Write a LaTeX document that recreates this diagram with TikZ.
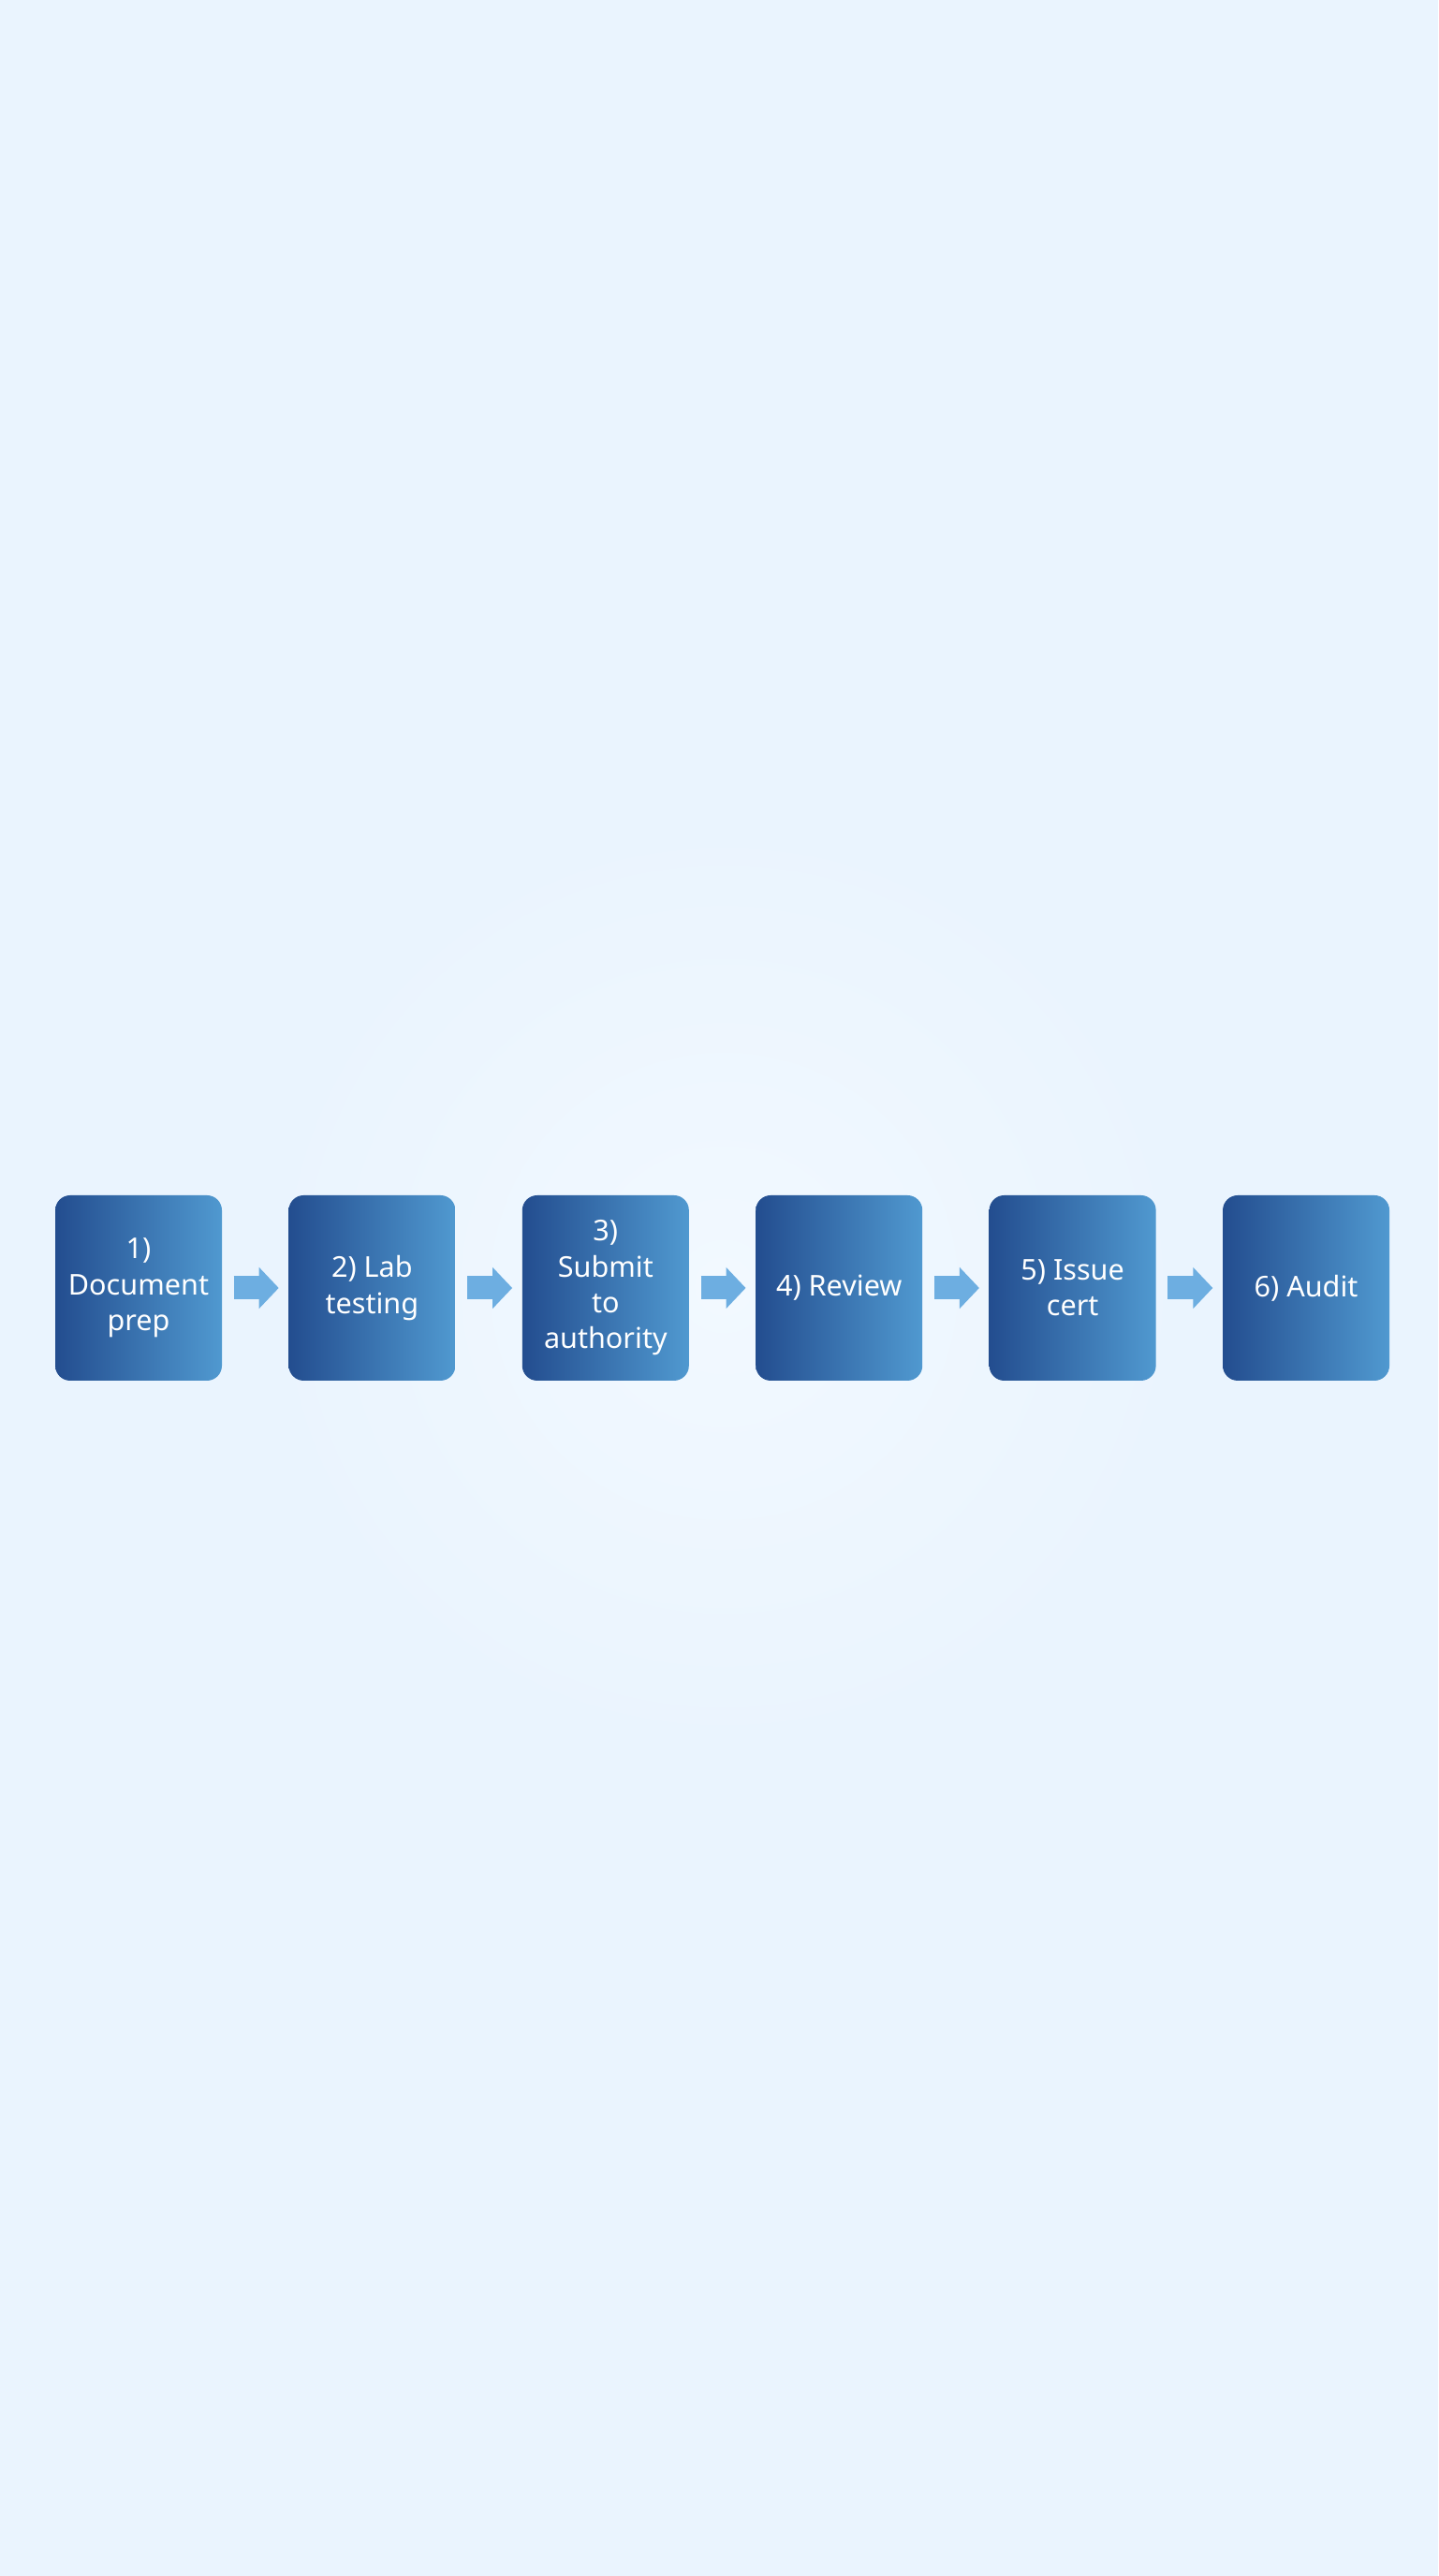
\documentclass[tikz,border=0pt]{standalone}
\usepackage{fontspec}
\setmainfont{Noto Sans}
\usetikzlibrary{positioning,arrows.meta}
\definecolor{bgblue}{HTML}{EAF4FE}
\definecolor{glowblue}{HTML}{F2F9FF}
\definecolor{boxleft}{HTML}{234D8F}
\definecolor{boxright}{HTML}{5099D0}
\definecolor{arrowblue}{HTML}{6DAEE1}

\begin{document}
\begin{tikzpicture}[node distance=0.7cm,
        stepbox/.style = {rounded corners=1.6mm, minimum width=1.78cm, minimum height=1.98cm,
            inner sep=0pt, left color=boxleft, right color=boxright, text=white, align=center,
            font=\fontsize{8.7}{10.9}\selectfont},
        flow/.style = {arrowblue, line width=2.5mm, -{Triangle[length=2.1mm, width=4.3mm]},
            shorten <=1.2mm, shorten >=1mm}]
            \useasboundingbox (0,0) rectangle (15.36,27.52);
            \fill[bgblue] (0,0) rectangle (15.36,27.52);
            \shade[inner color=glowblue, outer color=bgblue] (7.73,13.78) circle (5);

            \node[stepbox] (prep) at (1.48,13.76) {1)\\Document\\prep};
            \node[stepbox] (lab) [right=of prep] {2) Lab\\testing};
            \node[stepbox] (submit) [right=of lab] {3)\\Submit\\to\\authority};
            \node[stepbox] (review) [right=of submit] {4) Review};
            \node[stepbox] (cert) [right=of review] {5) Issue\\cert};
            \node[stepbox] (audit) [right=of cert] {6) Audit};

            \draw[flow] (prep) -- (lab);
            \draw[flow] (lab) -- (submit);
            \draw[flow] (submit) -- (review);
            \draw[flow] (review) -- (cert);
            \draw[flow] (cert) -- (audit);
        \end{tikzpicture}
\end{document}
